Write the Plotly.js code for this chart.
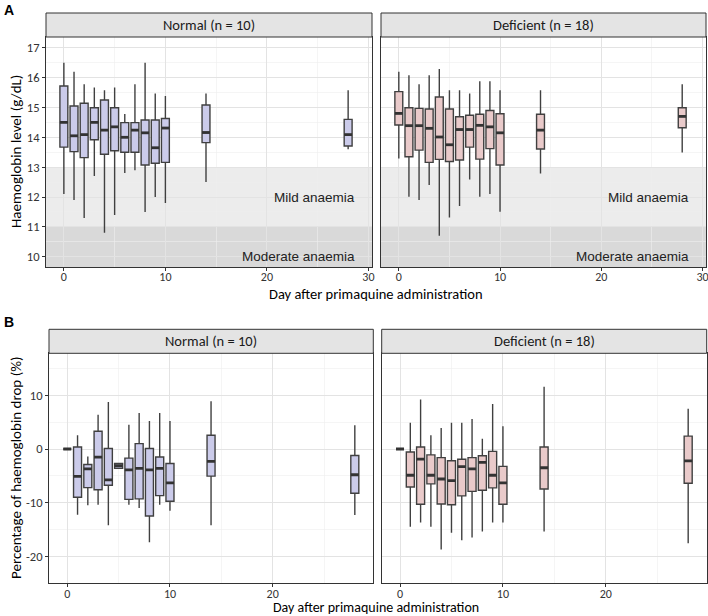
<!DOCTYPE html>
<html>
<head>
<meta charset="utf-8">
<script src="https://cdn.plot.ly/plotly-3.0.1.min.js"></script>
<style>
  body { margin: 0; background: #fff; }
  #chart { width: 708px; height: 616px; }
</style>
</head>
<body>
<div id="chart"></div>
<script>
// Days of sampling
const days = [0, 1, 2, 3, 4, 5, 6, 7, 8, 9, 10, 14, 28];

// Panel A: haemoglobin level (g/dL), Normal
const hbNormLow  = [12.1, 11.9, 11.3, 12.7, 10.8, 11.4, 12.8, 12.9, 11.5, 12.0, 11.8, 12.5, 13.6];
const hbNormQ1   = [13.67, 13.52, 13.32, 13.92, 13.43, 13.55, 13.5, 13.5, 13.07, 13.13, 13.16, 13.82, 13.71];
const hbNormMed  = [14.5, 14.05, 14.09, 14.5, 14.24, 14.35, 14.0, 14.24, 14.15, 13.65, 14.31, 14.16, 14.09];
const hbNormQ3   = [15.72, 15.05, 15.14, 14.99, 15.25, 14.99, 14.49, 14.49, 14.58, 14.58, 14.63, 15.08, 14.6];
const hbNormHigh = [16.5, 16.2, 15.78, 15.67, 15.58, 15.67, 14.78, 15.78, 16.5, 15.47, 15.38, 15.47, 15.58];

// Panel A: haemoglobin level (g/dL), Deficient
const hbDefLow  = [13.29, 12.01, 11.9, 12.4, 10.7, 11.31, 11.7, 12.59, 12.01, 12.1, 11.51, 12.79, 13.49];
const hbDefQ1   = [14.41, 13.35, 13.57, 13.16, 13.26, 13.19, 13.24, 13.67, 13.27, 13.62, 13.07, 13.61, 14.32];
const hbDefMed  = [14.8, 14.39, 14.39, 14.3, 14.01, 13.75, 14.26, 14.26, 14.4, 14.35, 14.15, 14.24, 14.7];
const hbDefQ3   = [15.53, 14.99, 14.97, 14.95, 15.35, 14.95, 14.69, 14.74, 14.77, 14.9, 14.79, 14.77, 14.99];
const hbDefHigh = [16.2, 16.08, 15.78, 16.08, 16.29, 15.58, 15.58, 15.47, 15.88, 15.88, 15.58, 15.58, 15.78];

// Panel B: percentage of haemoglobin drop (%), Normal
const dropNormLow  = [0, -12.25, -10.5, -10.4, -14.2, -3.6, -10.4, -11.0, -17.4, -10.4, -11.5, -14.2, -12.3];
const dropNormQ1   = [0, -9.0, -7.2, -7.6, -6.75, -3.6, -9.4, -9.3, -12.5, -8.7, -9.75, -5.06, -8.25];
const dropNormMed  = [0, -5.1, -3.7, -1.5, -5.75, -3.1, -3.9, -3.6, -3.9, -3.6, -6.3, -2.3, -4.8];
const dropNormQ3   = [0, 0.38, -2.9, 3.3, 0.1, -2.7, -1.7, 1.0, 0.1, -1.5, -2.7, 2.56, -1.2];
const dropNormHigh = [0, 2.56, -1.4, 6.4, 8.75, -2.7, 4.5, 6.7, 5.2, 6.7, 5.2, 8.9, 4.44];

// Panel B: percentage of haemoglobin drop (%), Deficient
const dropDefLow  = [0, -14.5, -13.7, -14.5, -18.75, -15.6, -17.0, -16.5, -15.4, -13.7, -13.7, -15.4, -17.6];
const dropDefQ1   = [0, -7.1, -10.3, -6.5, -10.25, -10.4, -8.75, -7.9, -7.7, -7.25, -10.3, -7.45, -6.4];
const dropDefMed  = [0, -4.9, -1.9, -4.9, -5.6, -5.9, -3.3, -3.7, -2.5, -4.9, -6.3, -3.5, -2.2];
const dropDefQ3   = [0, -0.56, 0.38, -1.1, -1.6, -2.2, -1.9, -1.6, -1.25, -0.44, -3.25, 0.37, 2.4];
const dropDefHigh = [0, 4.9, 9.25, 2.56, 3.9, 4.9, 4.9, 5.6, 1.9, 8.4, 4.25, 11.6, 7.5];

// Facet titles, tick labels
const facetNames = ["Normal (n = 10)", "Deficient (n = 18)"];
const hbTicks = [10, 11, 12, 13, 14, 15, 16, 17];
const dropTicks = [-20, -10, 0, 10];
const dropTickText = ["-20", "-10", "0", "10"];

const normFill = "#cbcbea";
const defFill = "#e9caca";
const edge = "#404040";
const boxW = 0.78;
const font = "Carlito, Lato, sans-serif";
const sans = "Liberation Sans, Arial, sans-serif";

function boxTrace(xa, ya, low, q1, med, q3, high, fill) {
  return {
    type: "box", xaxis: xa, yaxis: ya, x: days,
    lowerfence: low, q1: q1, median: med, q3: q3, upperfence: high,
    width: boxW, whiskerwidth: 0, fillcolor: fill,
    line: { color: edge, width: 1.4 },
    hoverinfo: "skip", showlegend: false
  };
}

// thick median bar like ggplot
function medianTrace(xa, ya, med) {
  let xs = [], ys = [];
  for (let i = 0; i < days.length; i++) {
    xs.push(days[i] - boxW / 2, days[i] + boxW / 2, null);
    ys.push(med[i], med[i], null);
  }
  return {
    type: "scatter", mode: "lines", xaxis: xa, yaxis: ya, x: xs, y: ys,
    line: { color: "#333", width: 2.8 }, hoverinfo: "skip", showlegend: false
  };
}

const data = [
  boxTrace("x", "y", hbNormLow, hbNormQ1, hbNormMed, hbNormQ3, hbNormHigh, normFill),
  medianTrace("x", "y", hbNormMed),
  boxTrace("x2", "y2", hbDefLow, hbDefQ1, hbDefMed, hbDefQ3, hbDefHigh, defFill),
  medianTrace("x2", "y2", hbDefMed),
  boxTrace("x3", "y3", dropNormLow, dropNormQ1, dropNormMed, dropNormQ3, dropNormHigh, normFill),
  medianTrace("x3", "y3", dropNormMed),
  boxTrace("x4", "y4", dropDefLow, dropDefQ1, dropDefMed, dropDefQ3, dropDefHigh, defFill),
  medianTrace("x4", "y4", dropDefMed)
];

const W = 708, H = 616;
const px = v => v / W;
const py = v => 1 - v / H;

const rangeA = [9.655, 17.36];
const rangeB = [-25.05, 17.85];

function xAxis(dom, range, anchor) {
  return {
    domain: dom, range: range, anchor: anchor,
    tickmode: "array", tickvals: [0, 10, 20, 30],
    minor: { tickvals: [5, 15, 25], showgrid: true, gridcolor: "#efefef", gridwidth: 0.6, ticks: "" },
    showgrid: true, gridcolor: "#e3e3e3", gridwidth: 1,
    zeroline: false, showline: true, mirror: true, linecolor: "#333", linewidth: 1,
    ticks: "outside", ticklen: 3, tickcolor: "#333",
    ticklabelstandoff: -4, ticklabeloverflow: "allow",
    tickfont: { family: font, size: 12, color: "#333" }, fixedrange: true
  };
}
function yAxis(dom, range, anchor, ticks, labels, minorVals, showLabels) {
  return {
    domain: dom, range: range, anchor: anchor,
    tickmode: "array", tickvals: ticks, ticktext: labels,
    minor: { tickvals: minorVals, showgrid: true, gridcolor: "#efefef", gridwidth: 0.6, ticks: "" },
    showgrid: true, gridcolor: "#e3e3e3", gridwidth: 1,
    zeroline: false, showline: true, mirror: true, linecolor: "#333", linewidth: 1,
    ticks: showLabels ? "outside" : "", ticklen: 3, tickcolor: "#333",
    showticklabels: showLabels,
    tickfont: { family: font, size: 12.5, color: "#333" }, fixedrange: true
  };
}

const hbMinor = hbTicks.map(t => t + 0.5).concat([9.5]);
const dropMinor = [-25, -15, -5, 5, 15];

const domA_N = [px(46), px(372)], domA_D = [px(381), px(706)];
const domB_N = [px(49), px(373.3)], domB_D = [px(381.7), px(706.7)];
const domA_y = [py(267), py(37)], domB_y = [py(583.3), py(353.3)];

const shapes = [];
const annotations = [];

// strips
function strip(dom, top, bottom, label) {
  shapes.push({
    type: "rect", xref: "paper", yref: "paper",
    x0: dom[0], x1: dom[1], y0: py(bottom), y1: py(top),
    fillcolor: "#e4e4e4", line: { color: "#333", width: 1 }
  });
  annotations.push({
    xref: "paper", yref: "paper", x: (dom[0] + dom[1]) / 2, y: py((top + bottom) / 2),
    text: label, showarrow: false, font: { family: font, size: 14.5, color: "#1a1a1a" },
    xanchor: "center", yanchor: "middle"
  });
}
strip(domA_N, 13, 37, facetNames[0]);
strip(domA_D, 13, 37, facetNames[1]);
strip(domB_N, 329.3, 353.3, facetNames[0]);
strip(domB_D, 329.3, 353.3, facetNames[1]);

// anaemia bands in panel A
[["x", "y"], ["x2", "y2"]].forEach(([xa, ya]) => {
  shapes.push({
    type: "rect", xref: xa + " domain", yref: ya, x0: 0, x1: 1, y0: 11, y1: 13,
    fillcolor: "#ececec", line: { width: 0 }, layer: "below"
  });
  shapes.push({
    type: "rect", xref: xa + " domain", yref: ya, x0: 0, x1: 1, y0: rangeA[0], y1: 11,
    fillcolor: "#d9d9d9", line: { width: 0 }, layer: "below"
  });
  annotations.push({
    xref: xa, yref: ya, x: 28.9, y: 12, text: "Mild anaemia", showarrow: false,
    xanchor: "right", yanchor: "middle", font: { family: sans, size: 13.5, color: "#222" }
  });
  annotations.push({
    xref: xa, yref: ya, x: 28.9, y: 10, text: "Moderate anaemia", showarrow: false,
    xanchor: "right", yanchor: "middle", font: { family: sans, size: 13.5, color: "#222" }
  });
});

// panel letters
annotations.push({ xref: "paper", yref: "paper", x: px(2), y: py(10), text: "<b>A</b>", showarrow: false,
  xanchor: "left", yanchor: "middle", font: { family: sans, size: 14, color: "#000" } });
annotations.push({ xref: "paper", yref: "paper", x: px(2), y: py(322), text: "<b>B</b>", showarrow: false,
  xanchor: "left", yanchor: "middle", font: { family: sans, size: 14, color: "#000" } });

// axis titles
const xTitle = "Day after primaquine administration";
annotations.push({ xref: "paper", yref: "paper", x: px(376), y: py(294), text: xTitle, showarrow: false,
  xanchor: "center", yanchor: "middle", font: { family: font, size: 14.5, color: "#000" } });
annotations.push({ xref: "paper", yref: "paper", x: px(376), y: py(607), text: xTitle, showarrow: false,
  xanchor: "center", yanchor: "middle", font: { family: font, size: 14, color: "#000" } });
annotations.push({ xref: "paper", yref: "paper", x: px(16), y: py(152), text: "Haemoglobin level (g/dL)", showarrow: false,
  textangle: -90, xanchor: "center", yanchor: "middle", font: { family: font, size: 15, color: "#000" } });
annotations.push({ xref: "paper", yref: "paper", x: px(16), y: py(468), text: "Percentage of haemoglobin drop (%)", showarrow: false,
  textangle: -90, xanchor: "center", yanchor: "middle", font: { family: font, size: 15, color: "#000" } });

const layout = {
  width: W, height: H,
  margin: { l: 0, r: 0, t: 0, b: 0 },
  paper_bgcolor: "#fff", plot_bgcolor: "#fff",
  showlegend: false,
  xaxis: xAxis(domA_N, [-1.76, 30.35], "y"),
  yaxis: yAxis(domA_y, rangeA, "x", hbTicks, hbTicks.map(String), hbMinor, true),
  xaxis2: xAxis(domA_D, [-1.76, 30.35], "y2"),
  yaxis2: yAxis(domA_y, rangeA, "x2", hbTicks, hbTicks.map(String), hbMinor, false),
  xaxis3: xAxis(domB_N, [-1.78, 29.8], "y3"),
  yaxis3: yAxis(domB_y, rangeB, "x3", dropTicks, dropTickText, dropMinor, true),
  xaxis4: xAxis(domB_D, [-1.78, 29.8], "y4"),
  yaxis4: yAxis(domB_y, rangeB, "x4", dropTicks, dropTickText, dropMinor, false),
  shapes: shapes,
  annotations: annotations
};

Plotly.newPlot("chart", data, layout, { displayModeBar: false, staticPlot: true });
</script>
</body>
</html>
